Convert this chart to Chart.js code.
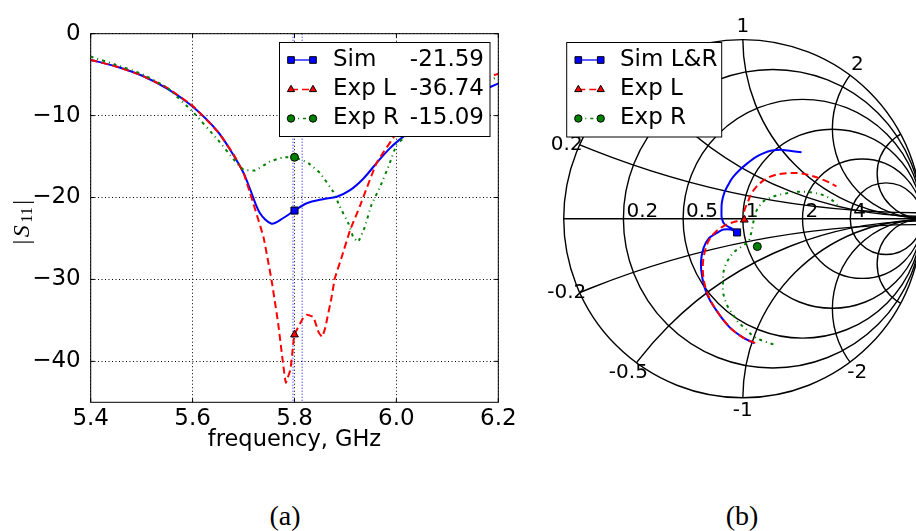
<!DOCTYPE html>
<html>
<head>
<meta charset="utf-8">
<script src="https://cdn.jsdelivr.net/npm/chart.js@4.4.1/dist/chart.umd.min.js"></script>
<style>
  html, body { margin: 0; padding: 0; background: #fff; }
  body { position: relative; width: 916px; height: 531px; overflow: hidden; }
  #s11 { position: absolute; left: 0; top: 0; width: 540px; height: 470px; }
  #smith { position: absolute; left: 540px; top: 0; width: 376px; height: 470px; }
  .cap { position: absolute; top: 498px; width: 80px; text-align: center;
         font-family: "Liberation Serif", serif; font-size: 28px; line-height: 36px; }
</style>
</head>
<body>
<canvas id="s11" width="540" height="470"></canvas>
<canvas id="smith" width="376" height="470"></canvas>
<div class="cap" style="left:245px">(a)</div>
<div class="cap" style="left:702px">(b)</div>
<script>
// --- |S11| en dB ---
const freqTicks = [5.4, 5.6, 5.8, 6.0, 6.2];
const dbTicks = [0, -10, -20, -30, -40];

const simFreq = [5.40, 5.45, 5.50, 5.55, 5.60, 5.65, 5.68, 5.70, 5.713, 5.732, 5.755, 5.778, 5.80, 5.824, 5.856, 5.883, 5.909, 5.935, 5.961, 5.987, 6.013, 6.05, 6.10, 6.15, 6.20];
const simDb   = [-3.2, -4.0, -5.1, -6.7, -8.9, -12.0, -14.8, -17.0, -19.0, -21.9, -23.2, -22.5, -21.59, -20.7, -20.2, -19.9, -19.1, -17.7, -15.8, -14.0, -12.6, -10.9, -8.8, -7.4, -6.1];

const expLFreq = [5.40, 5.45, 5.50, 5.55, 5.60, 5.65, 5.68, 5.70, 5.713, 5.739, 5.755, 5.768, 5.778, 5.783, 5.792, 5.796, 5.80, 5.817, 5.824, 5.837, 5.847, 5.854, 5.86, 5.873, 5.879, 5.893, 5.909, 5.928, 5.961, 6.00, 6.05, 6.10, 6.15, 6.184, 6.20];
const expLDb   = [-3.2, -4.0, -5.1, -6.6, -8.8, -12.0, -14.7, -17.0, -19.5, -24.8, -30.1, -35.4, -40.5, -42.6, -41.0, -38.8, -36.74, -34.7, -34.3, -34.6, -36.4, -37.0, -36.0, -32.1, -29.9, -27.2, -24.0, -21.1, -15.8, -12.2, -9.4, -7.3, -5.9, -5.2, -4.9];

const expRFreq = [5.40, 5.45, 5.50, 5.55, 5.60, 5.65, 5.68, 5.70, 5.7226, 5.752, 5.778, 5.80, 5.827, 5.85, 5.876, 5.889, 5.906, 5.915, 5.925, 5.938, 5.951, 5.968, 5.987, 6.00, 6.013, 6.05, 6.10, 6.15, 6.20];
const expRDb   = [-2.8, -3.8, -4.9, -6.6, -9.5, -13.0, -15.3, -16.6, -16.7, -15.6, -15.1, -15.09, -15.8, -17.0, -19.3, -21.1, -23.2, -24.8, -25.4, -23.6, -20.9, -18.7, -15.8, -13.6, -12.8, -10.3, -7.9, -6.3, -5.3];

// valeurs a 5.8 GHz (marqueurs + legende)
const markFreq = 5.8;
const simMark = -21.59, expLMark = -36.74, expRMark = -15.09;
const bandLines = [5.797, 5.815];

// --- abaque de Smith (coefficient de reflexion, re / im) ---
const simRe = [0.063, 0.000, -0.072, -0.144, -0.198, -0.225, -0.234, -0.219, -0.189, -0.144, -0.108, -0.068, -0.034, -0.065, -0.099, -0.117, -0.119, -0.117, -0.104, -0.081, -0.056, -0.018, 0.025, 0.072, 0.117, 0.162, 0.209, 0.252, 0.328];
const simIm = [-0.690, -0.658, -0.604, -0.514, -0.424, -0.334, -0.243, -0.162, -0.108, -0.078, -0.060, -0.060, -0.074, -0.052, -0.034, 0.000, 0.045, 0.090, 0.142, 0.189, 0.229, 0.270, 0.307, 0.342, 0.364, 0.378, 0.383, 0.378, 0.369];

const expLRe = [0.069, 0.004, -0.066, -0.137, -0.191, -0.218, -0.223, -0.212, -0.191, -0.158, -0.110, -0.056, -0.018, 0.008, 0.009, 0.027, 0.047, 0.074, 0.108, 0.144, 0.181, 0.215, 0.252, 0.324, 0.397, 0.469, 0.523];
const expLIm = [-0.690, -0.661, -0.609, -0.523, -0.431, -0.339, -0.252, -0.182, -0.123, -0.079, -0.042, -0.020, -0.012, -0.006, 0.045, 0.090, 0.137, 0.175, 0.207, 0.229, 0.243, 0.250, 0.253, 0.252, 0.234, 0.207, 0.180];

const expRRe = [0.171, 0.117, 0.063, 0.018, -0.029, -0.054, -0.083, -0.099, -0.110, -0.111, -0.110, -0.108, -0.099, -0.086, -0.054, -0.018, 0.009, 0.036, 0.047, 0.055, 0.063, 0.074, 0.090, 0.112, 0.144, 0.188, 0.235, 0.285, 0.339, 0.397, 0.447, 0.490, 0.541];
const expRIm = [-0.697, -0.679, -0.655, -0.613, -0.571, -0.532, -0.490, -0.451, -0.409, -0.370, -0.334, -0.297, -0.263, -0.235, -0.189, -0.162, -0.144, -0.117, -0.079, -0.042, 0.002, 0.039, 0.066, 0.094, 0.112, 0.129, 0.139, 0.148, 0.150, 0.144, 0.131, 0.110, 0.063];

const simMarkG = [-0.032, -0.076];
const expLMarkG = [0.008, -0.006];
const expRMarkG = [0.081, -0.154];

const rCircles = [0.2, 0.5, 1, 2, 4];
const xArcs = [0.2, 0.5, 1, 2, 4];
const xLabels = [0.2, 0.5, 1, 2, -0.2, -0.5, -1, -2];

const BLUE = '#0000ff', RED = '#ff0000', GREEN = '#008000';
const FONT = '"DejaVu Sans", sans-serif';

Chart.defaults.font.family = FONT;
Chart.defaults.font.size = 23;
Chart.defaults.color = '#000';
Chart.defaults.animation = false;

const pts = (xs, ys) => xs.map((x, i) => ({ x: x, y: ys[i] }));

function drawLegend(chart, cfg) {
  const ctx = chart.ctx;
  ctx.save();
  ctx.fillStyle = '#fff';
  ctx.fillRect(cfg.x, cfg.y, cfg.w, cfg.h);
  ctx.strokeStyle = '#000';
  ctx.lineWidth = 1;
  ctx.strokeRect(cfg.x, cfg.y, cfg.w, cfg.h);
  chart.data.datasets.filter(d => d.legendRow !== undefined).forEach(d => {
    const y = cfg.rowY[d.legendRow];
    ctx.strokeStyle = d.borderColor;
    ctx.lineWidth = 1.3;
    ctx.setLineDash(d.borderDash || []);
    ctx.beginPath();
    ctx.moveTo(cfg.m1, y);
    ctx.lineTo(cfg.m2, y);
    ctx.stroke();
    ctx.setLineDash([]);
    [cfg.m1, cfg.m2].forEach(mx => {
      ctx.fillStyle = d.markerColor;
      ctx.strokeStyle = '#000';
      ctx.lineWidth = 1;
      Chart.helpers.drawPoint(ctx, { pointStyle: d.markerStyle, radius: d.markerSize - 0.3, rotation: 0, borderWidth: 1 }, mx, y);
    });
    ctx.fillStyle = '#000';
    ctx.font = '23px ' + FONT;
    ctx.textBaseline = 'middle';
    ctx.textAlign = 'left';
    ctx.fillText(d.label, cfg.textX, y);
    if (d.legendValue !== undefined) {
      ctx.textAlign = 'right';
      ctx.fillText(d.legendValue.toFixed(2), cfg.valueX, y);
    }
  });
  ctx.restore();
}

// ---------- (a) |S11| ----------
const frameAndLegend = {
  id: 'frameAndLegend',
  afterDraw(chart) {
    const { ctx, chartArea: a, scales } = chart;
    ctx.save();
    ctx.strokeStyle = '#000';
    ctx.lineWidth = 1;
    ctx.strokeRect(a.left, a.top, a.right - a.left, a.bottom - a.top);
    ctx.beginPath();
    freqTicks.forEach(f => {
      const x = scales.x.getPixelForValue(f);
      ctx.moveTo(x, a.top); ctx.lineTo(x, a.top + 4);
      ctx.moveTo(x, a.bottom); ctx.lineTo(x, a.bottom - 4);
    });
    dbTicks.forEach(v => {
      const y = scales.y.getPixelForValue(v);
      ctx.moveTo(a.left, y); ctx.lineTo(a.left + 4, y);
      ctx.moveTo(a.right, y); ctx.lineTo(a.right - 4, y);
    });
    ctx.stroke();

    // titre de l'axe y : |S11|
    ctx.translate(23, 221);
    ctx.rotate(-Math.PI / 2);
    const parts = [
      ['|', '24px "Liberation Serif"', 0],
      ['S', 'italic 24px "Liberation Serif"', 0],
      ['11', '16px "Liberation Serif"', 5],
      ['|', '24px "Liberation Serif"', 0]
    ];
    let total = 0;
    parts.forEach(p => { ctx.font = p[1]; total += ctx.measureText(p[0]).width + 2.5; });
    let x = -total / 2;
    ctx.fillStyle = '#000';
    ctx.textBaseline = 'middle';
    ctx.textAlign = 'left';
    parts.forEach(p => {
      ctx.font = p[1];
      ctx.fillText(p[0], x, p[2]);
      x += ctx.measureText(p[0]).width + 2.5;
    });
    ctx.restore();

    drawLegend(chart, { x: 279.5, y: 42.5, w: 210.5, h: 94, rowY: [60, 89.5, 118.5],
                        m1: 291, m2: 313, textX: 333, valueX: 484 });
  }
};

const s11Datasets = [
  { label: 'Sim', data: pts(simFreq, simDb), borderColor: BLUE, borderWidth: 2, tension: 0.3,
    showLine: true, pointRadius: 0, order: 3,
    legendRow: 0, legendValue: simMark, markerStyle: 'rect', markerColor: BLUE, markerSize: 5 },
  { label: 'Exp L', data: pts(expLFreq, expLDb), borderColor: RED, borderWidth: 2, borderDash: [7, 4], tension: 0.1,
    showLine: true, pointRadius: 0, order: 2,
    legendRow: 1, legendValue: expLMark, markerStyle: 'triangle', markerColor: RED, markerSize: 4.5 },
  { label: 'Exp R', data: pts(expRFreq, expRDb), borderColor: GREEN, borderWidth: 2, borderDash: [3, 4, 1, 4], tension: 0.1,
    showLine: true, pointRadius: 0, order: 1,
    legendRow: 2, legendValue: expRMark, markerStyle: 'circle', markerColor: GREEN, markerSize: 4 },
  { data: [{ x: markFreq, y: simMark }], pointStyle: 'rect', pointRadius: 5, backgroundColor: BLUE, borderColor: '#000', borderWidth: 1, order: 0 },
  { data: [{ x: markFreq, y: expLMark }], pointStyle: 'triangle', pointRadius: 4.5, backgroundColor: RED, borderColor: '#000', borderWidth: 1, order: 0 },
  { data: [{ x: markFreq, y: expRMark }], pointStyle: 'circle', pointRadius: 4, backgroundColor: GREEN, borderColor: '#000', borderWidth: 1, order: 0 }
];
bandLines.forEach(f => s11Datasets.push({
  data: [{ x: f, y: 0 }, { x: f, y: -45 }], showLine: true, pointRadius: 0,
  borderColor: BLUE, borderWidth: 1, borderDash: [1, 2], order: 4
}));

new Chart(document.getElementById('s11'), {
  type: 'scatter',
  data: { datasets: s11Datasets },
  options: {
    responsive: false,
    layout: { padding: { left: 0, top: 33.7, right: 41.7, bottom: 0 } },
    plugins: { legend: { display: false }, tooltip: { enabled: false } },
    scales: {
      x: {
        type: 'linear', min: 5.4, max: 6.2,
        afterBuildTicks: s => { s.ticks = freqTicks.map(v => ({ value: v })); },
        afterFit: s => { s.height = 67.7; },
        ticks: { padding: 3, maxRotation: 0, callback: v => v.toFixed(1) },
        grid: { color: '#000', lineWidth: 1, drawTicks: false },
        border: { display: false, dash: [1, 2.5] },
        title: { display: true, text: 'frequency, GHz', font: { size: 22.5 }, padding: { top: 0, bottom: 16 } }
      },
      y: {
        type: 'linear', min: -45, max: 0,
        afterBuildTicks: s => { s.ticks = dbTicks.map(v => ({ value: v })); },
        afterFit: s => { s.width = 90.7; },
        ticks: { padding: 10, callback: v => (v < 0 ? '\u2212' : '') + Math.abs(v) },
        grid: { color: '#000', lineWidth: 1, drawTicks: false },
        border: { display: false, dash: [1, 2.5] }
      }
    }
  },
  plugins: [frameAndLegend]
});

// ---------- (b) abaque de Smith ----------
const SC = { cx: 203.3, cy: 218.3, R: 185, w: 376, h: 470 };

const smithGrid = {
  id: 'smithGrid',
  beforeDatasetsDraw(chart) {
    const { ctx, scales } = chart;
    const px = v => scales.x.getPixelForValue(v);
    const py = v => scales.y.getPixelForValue(v);
    const k = px(1) - px(0);
    ctx.save();
    ctx.strokeStyle = '#000';
    ctx.lineWidth = 1.4;
    ctx.beginPath();
    ctx.arc(px(0), py(0), k, 0, 2 * Math.PI);
    ctx.stroke();
    rCircles.forEach(r => {
      ctx.beginPath();
      ctx.arc(px(r / (1 + r)), py(0), k / (1 + r), 0, 2 * Math.PI);
      ctx.stroke();
    });
    ctx.save();
    ctx.beginPath();
    ctx.arc(px(0), py(0), k, 0, 2 * Math.PI);
    ctx.clip();
    xArcs.forEach(x => [x, -x].forEach(v => {
      ctx.beginPath();
      ctx.arc(px(1), py(1 / v), k / Math.abs(v), 0, 2 * Math.PI);
      ctx.stroke();
    }));
    ctx.restore();
    ctx.beginPath();
    ctx.moveTo(px(-1), py(0));
    ctx.lineTo(px(1), py(0));
    ctx.stroke();

    ctx.fillStyle = '#000';
    ctx.font = '20px ' + FONT;
    ctx.textAlign = 'left';
    ctx.textBaseline = 'alphabetic';
    rCircles.forEach(r => ctx.fillText(String(r), px((r - 1) / (r + 1)) + 3, py(0) - 2));
    ctx.textAlign = 'center';
    ctx.textBaseline = 'middle';
    xLabels.forEach(x => {
      const re = (x * x - 1) / (x * x + 1), im = 2 * x / (x * x + 1);
      ctx.fillText(String(x), px(re * 1.065), py(im * 1.065));
    });
    ctx.restore();
  },
  afterDraw(chart) {
    drawLegend(chart, { x: 26.7, y: 42.5, w: 155, h: 94.5, rowY: [60, 89.5, 118.5],
                        m1: 38.3, m2: 60.7, textX: 80 });
  }
};

new Chart(document.getElementById('smith'), {
  type: 'scatter',
  data: {
    datasets: [
      { label: 'Sim L&R', data: pts(simRe, simIm), borderColor: BLUE, borderWidth: 2, tension: 0.35,
        showLine: true, pointRadius: 0, order: 3,
        legendRow: 0, markerStyle: 'rect', markerColor: BLUE, markerSize: 5 },
      { label: 'Exp L', data: pts(expLRe, expLIm), borderColor: RED, borderWidth: 2, borderDash: [7, 4], tension: 0.35,
        showLine: true, pointRadius: 0, order: 2,
        legendRow: 1, markerStyle: 'triangle', markerColor: RED, markerSize: 4.5 },
      { label: 'Exp R', data: pts(expRRe, expRIm), borderColor: GREEN, borderWidth: 2, borderDash: [3, 4, 1, 4], tension: 0.35,
        showLine: true, pointRadius: 0, order: 1,
        legendRow: 2, markerStyle: 'circle', markerColor: GREEN, markerSize: 4 },
      { data: [{ x: simMarkG[0], y: simMarkG[1] }], pointStyle: 'rect', pointRadius: 5, backgroundColor: BLUE, borderColor: '#000', borderWidth: 1, order: 0 },
      { data: [{ x: expLMarkG[0], y: expLMarkG[1] }], pointStyle: 'triangle', pointRadius: 4.5, backgroundColor: RED, borderColor: '#000', borderWidth: 1, order: 0 },
      { data: [{ x: expRMarkG[0], y: expRMarkG[1] }], pointStyle: 'circle', pointRadius: 4, backgroundColor: GREEN, borderColor: '#000', borderWidth: 1, order: 0 }
    ]
  },
  options: {
    responsive: false,
    layout: { padding: 0 },
    plugins: { legend: { display: false }, tooltip: { enabled: false } },
    scales: {
      x: { type: 'linear', display: false, min: -SC.cx / SC.R, max: (SC.w - SC.cx) / SC.R },
      y: { type: 'linear', display: false, min: (SC.cy - SC.h) / SC.R, max: SC.cy / SC.R }
    }
  },
  plugins: [smithGrid]
});
</script>
</body>
</html>
